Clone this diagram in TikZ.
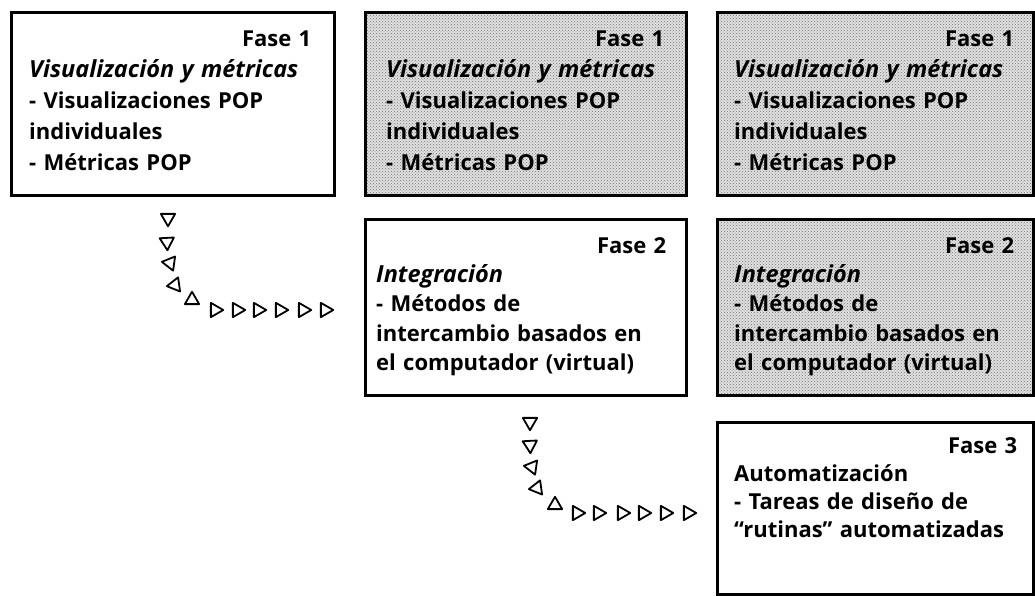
\documentclass[tikz,border=0pt]{standalone}
\usepackage{fontspec}
\setmainfont{Open Sans}
\usetikzlibrary{patterns,shapes.geometric,calc}
\newcommand\itx[2]{{\fontsize{23.5}{#1}\selectfont\itshape #2}}
\begin{document}
\begin{tikzpicture}[x=1pt,y=-1pt,
  box/.style={draw=black, line width=2.8pt, inner sep=0pt, anchor=north west},
  shaded/.style={box, preaction={fill=black!12}, pattern=crosshatch dots, pattern color=black!55},
  txt/.style={anchor=north west, inner sep=0pt, align=left, font=\bfseries\fontsize{22}{31}\selectfont},
  tri/.style={draw=black, line width=1.8pt, line join=round, regular polygon, regular polygon sides=3, minimum size=16.5pt, inner sep=0pt}
]
\useasboundingbox (0,0) rectangle (1035,596);
% boxes
\node[box, minimum width=323pt, minimum height=183pt] (b1) at (10,11) {};
\node[shaded, minimum width=321pt, minimum height=183pt] (b2) at (364,11) {};
\node[shaded, minimum width=316pt, minimum height=183pt] (b3) at (716,11) {};
\node[box, minimum width=321pt, minimum height=176pt] (b4) at (364,218) {};
\node[shaded, minimum width=316pt, minimum height=176pt] (b5) at (716,218) {};
\node[box, minimum width=316pt, minimum height=172pt] (b6) at (716,421) {};
% texts
\node[txt, text width=282pt] (t1) at ($(b1.north west)+(19,20)$)
 {\hfill Fase 1\\ \itx{31pt}{Visualización y métricas}\\ - Visualizaciones POP\\ individuales\\ - Métricas POP};
\node[txt, text width=278pt] (t2) at ($(b2.north west)+(22,20)$)
 {\hfill Fase 1\\ \itx{31pt}{Visualización y métricas}\\ - Visualizaciones POP\\ individuales\\ - Métricas POP};
\node[txt, text width=280pt] (t3) at ($(b3.north west)+(18,20)$)
 {\hfill Fase 1\\ \itx{31pt}{Visualización y métricas}\\ - Visualizaciones POP\\ individuales\\ - Métricas POP};
\node[txt, text width=290pt, font=\bfseries\fontsize{22}{29.3}\selectfont] (t4) at ($(b4.north west)+(12,19)$)
 {\hfill Fase 2\\ \itx{29.3pt}{Integración}\\ - Métodos de\\ intercambio basados en\\ el computador (virtual)};
\node[txt, text width=280pt, font=\bfseries\fontsize{22}{29.3}\selectfont] (t5) at ($(b5.north west)+(18,19)$)
 {\hfill Fase 2\\ \itx{29.3pt}{Integración}\\ - Métodos de\\ intercambio basados en\\ el computador (virtual)};
\node[txt, text width=283pt, font=\bfseries\fontsize{22}{28}\selectfont] (t6) at ($(b6.north west)+(18,16)$)
 {\hfill Fase 3\\ Automatización\\ - Tareas de diseño de\\ “rutinas” automatizadas};
% triangle chains
\foreach \x/\y/\d [count=\i] in {168/218/270,167/242/273,170/263/292,175/285/308,192/300/330,215/310/360,237/310/360,258/310/360,280/310/360,303/310/360,325/310/360}
  \node[tri, rotate=\d-90] (ta\i) at (\x,\y) {};
\foreach \x/\y/\d [count=\i] in {530/422/270,530/445/273,532/467/292,537/488/308,555/505/330,577/513/360,598/513/360,622/513/360,643/513/360,665/513/360,688/513/360}
  \node[tri, rotate=\d-90] (tb\i) at (\x,\y) {};
\end{tikzpicture}
\end{document}
